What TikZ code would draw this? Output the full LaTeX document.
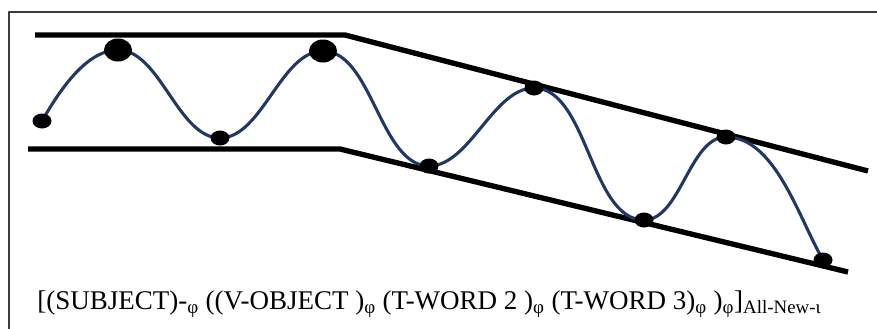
\documentclass[tikz,border=0pt]{standalone}
\usepackage{fontspec}
\setmainfont{Liberation Serif}
\definecolor{wavecol}{RGB}{31,56,100}
\definecolor{framecol}{RGB}{60,60,60}
\newcommand{\phsub}{\textsubscript{φ}}
\begin{document}
\begin{tikzpicture}[x=0.025cm, y=-0.025cm, line join=round, line cap=round]
				\useasboundingbox (0,0) rectangle (877,329);
				% Rahmen
				\draw[framecol, line width=1.3pt, line cap=butt] (9,329)--(9,12)--(877,12);
				% Schienen
				\draw[line width=3.8pt, line cap=butt] (35,35)--(345,35)--(868,171);
				\draw[line width=3.8pt, line cap=butt] (28,149)--(340,149)--(848,272);
				% Punkte der Welle
				\foreach \n/\x/\y in {a/42/121, b/118/50, c/220/138, d/323/51, e/429/166, f/534/88, g/644/220, h/726/137, i/823/260}
					\coordinate (\n) at (\x,\y);
				\draw[wavecol, line width=2.2pt, looseness=0.8] (a) to[out=60,in=180] (b) to[out=0,in=180] (c) to[out=0,in=180] (d)
					to[out=0,in=180] (e) to[out=0,in=180] (f) to[out=0,in=180] (g) to[out=0,in=180] (h) to[out=0,in=120] (i);
				\foreach \n in {b,d} \fill (\n) ellipse [x radius=14, y radius=11.5];
				\foreach \n in {a,c,e,f,g,h,i} \fill (\n) ellipse [x radius=9.5, y radius=7.5];
				% Formel
				\node[anchor=base west, inner sep=0pt, font=\fontsize{19.2}{23}\selectfont] (formula) at (37,309)
					{[(SUBJECT)-\phsub{} ((V-OBJECT )\phsub{} (T-WORD 2 )\phsub{} (T-WORD 3)\phsub{} )\phsub]\textsubscript{All-New-ι}};
\end{tikzpicture}
\end{document}
